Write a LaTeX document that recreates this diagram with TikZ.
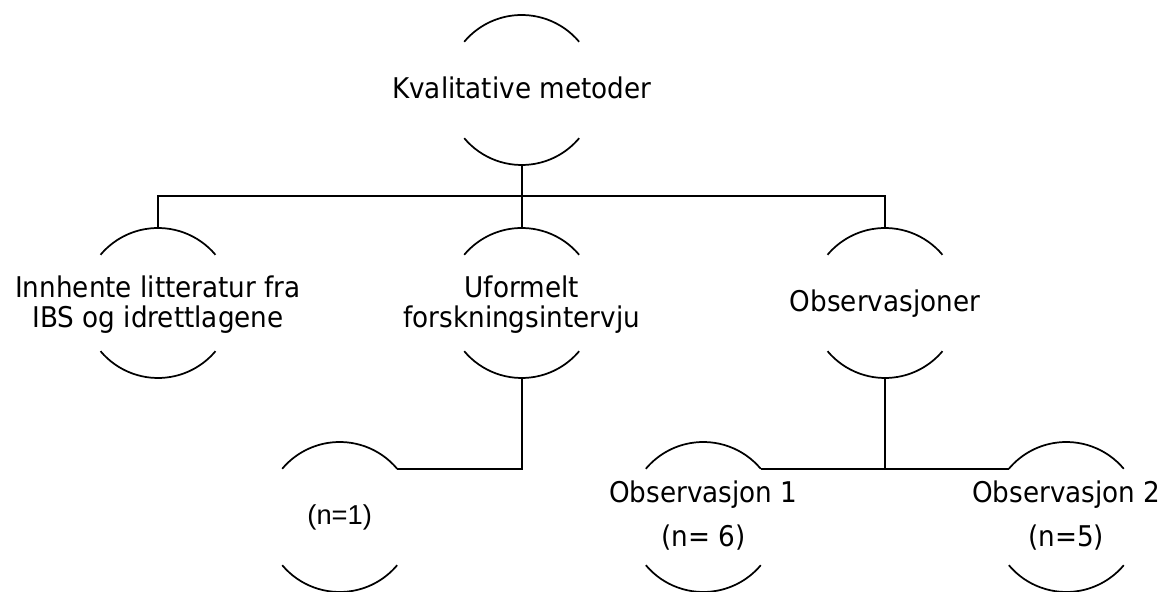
\documentclass[tikz,border=0pt]{standalone}
\usepackage{fontspec}
\setmainfont{DejaVu Sans}[FakeStretch=0.92]
\newfontfamily\arialfont{Liberation Sans}
\newcommand{\drawrings}[1]{%
  \draw[arcline] (#1.40) arc[start angle=40,end angle=140,radius=56.25pt];
  \draw[arcline] (#1.220) arc[start angle=220,end angle=320,radius=56.25pt];}
\begin{document}
\begin{tikzpicture}[x=0.75pt,y=0.75pt,line width=1.3pt,
  ring/.style={circle,minimum size=112.5pt,inner sep=0pt,outer sep=0pt},
  lbl/.style={font=\fontsize{21.4pt}{22.5pt}\selectfont,inner sep=0pt,align=center},
  nlbl/.style={font=\arialfont\fontsize{20.5pt}{22pt}\selectfont,inner sep=0pt},
  arcline/.style={line width=1.3pt},
  conn/.style={line width=1.3pt}]
\useasboundingbox (0,0) rectangle (1165,592);
% rings
\node[ring] (k) at (521.7,502) {};
\node[ring] (i) at (158,289) {};
\node[ring] (u) at (521.7,289) {};
\node[ring] (o) at (885,289) {};
\node[ring] (n1) at (339.7,75) {};
\node[ring] (ob1) at (703.3,75) {};
\node[ring] (ob2) at (1066.3,75) {};
\drawrings{k}
\drawrings{i}
\drawrings{u}
\drawrings{o}
\drawrings{n1}
\drawrings{ob1}
\drawrings{ob2}
% labels
\node[lbl,anchor=base] (kt) at (521.7,493) {Kvalitative metoder};
\node[lbl] (it) at (158,287.8) {Innhente litteratur fra\\IBS og idrettlagene};
\node[lbl] (ut) at (521.7,287.8) {Uformelt\\forskningsintervju};
\node[lbl,anchor=base] (ot) at (885,280.3) {Observasjoner};
\node[nlbl,anchor=base] (n1t) at (339.7,67.7) {(n=1)};
\node[lbl] (ob1t) at (703.3,76) {Observasjon 1\\[10.5pt](n= 6)};
\node[lbl] (ob2t) at (1066.3,76) {Observasjon 2\\[10.5pt](n=5)};
% connectors
\coordinate (bus) at (521.7,396);
\draw[conn] (k.south) -- (u.north);
\draw[conn] (i.north) -- (i.north |- bus) -- (o.north |- bus) -- (o.north);
\draw[conn] (n1.40) -| (u.south);
\draw[conn] (o.south) -- (o.south |- ob1.40);
\draw[conn] (ob1.40) -- (ob2.140);
\end{tikzpicture}
\end{document}
